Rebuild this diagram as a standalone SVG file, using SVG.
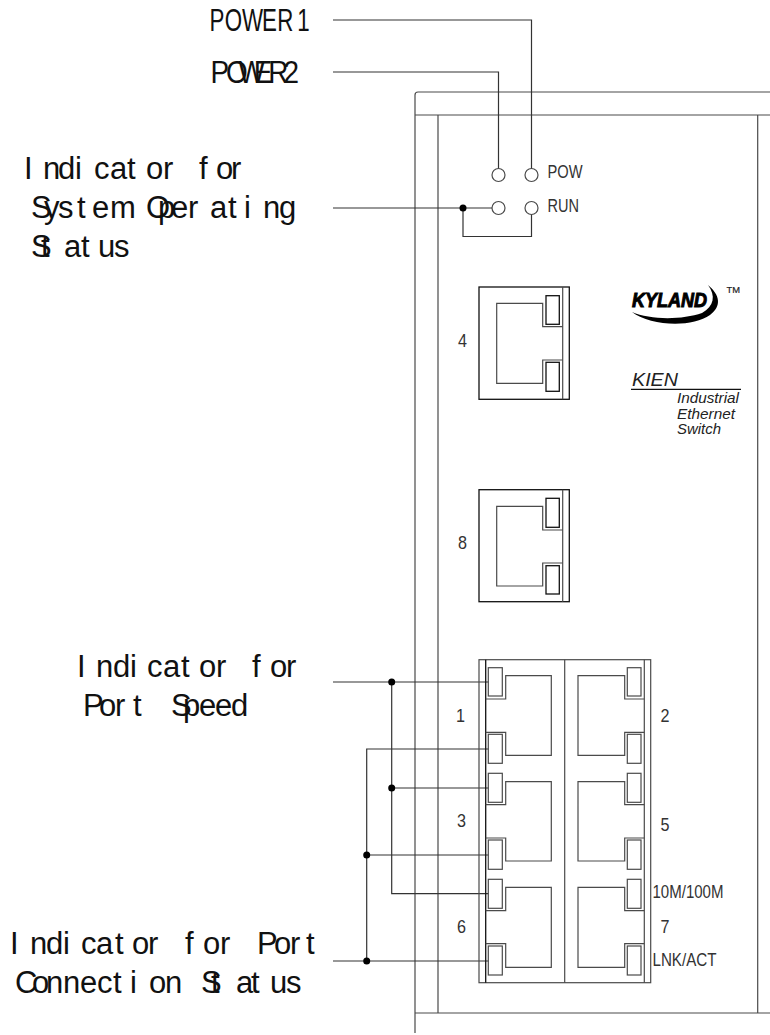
<svg xmlns="http://www.w3.org/2000/svg" width="770" height="1035" viewBox="0 0 770 1035">
<style>
.l{fill:none;stroke:#4a4a4a;stroke-width:1.2}
.k{fill:none;stroke:#111;stroke-width:1.3}
.w{fill:none;stroke:#333;stroke-width:1.2}
.d{fill:#000;stroke:none}
.big{font-family:"Liberation Sans",Arial,sans-serif;font-size:31px;fill:#111}
.sm{font-family:"Liberation Sans",Arial,sans-serif;font-size:19px;fill:#333}
.it{font-family:"Liberation Sans",Arial,sans-serif;font-style:italic;fill:#222}
</style>
<rect width="770" height="1035" fill="#fff"/>
<g id="enclosure">
<path class="l" d="M415,1033V95Q415,92 418,92H770"/>
<path class="l" d="M415,115H770M438,115V1013M757.700,115V1013M415,1013H770"/>
</g>
<g id="connectors">
<path class="w" d="M333,20H531.500V169"/>
<path class="w" d="M333,72H498.500V168.500"/>
<path class="w" d="M333,208H492"/>
<path class="w" d="M463,208V236.500H531.500V214.500"/>
<circle class="d" cx="463" cy="208" r="3.500"/>
<path class="w" d="M333,682H488.500"/>
<path class="w" d="M391.700,682V893.700H488.500"/>
<path class="w" d="M391.700,788H488.500"/>
<path class="w" d="M488.500,749H366.700V961"/>
<path class="w" d="M366.700,855H488.500"/>
<path class="w" d="M333,961H488.500"/>
<circle class="d" cx="391.700" cy="682" r="3.500"/>
<circle class="d" cx="391.700" cy="788" r="3.500"/>
<circle class="d" cx="366.700" cy="855" r="3.500"/>
<circle class="d" cx="366.700" cy="961" r="3.500"/>
</g>
<g id="leds">
<circle class="l" cx="498.500" cy="175" r="6.500"/>
<circle class="l" cx="531.500" cy="175" r="6.500"/>
<circle class="l" cx="498.500" cy="208" r="6.500"/>
<circle class="l" cx="531.500" cy="208" r="6.500"/>
<text class="sm" x="547.500" y="178.300" textLength="35" lengthAdjust="spacingAndGlyphs">POW</text>
<text class="sm" x="547.500" y="211.700" textLength="31.500" lengthAdjust="spacingAndGlyphs">RUN</text>
</g>
<g id="port4">
<rect class="k" x="479" y="287" width="90.300" height="112.300"/>
<path class="l" d="M562.700,287V399.300"/>
<path class="l" d="M562.700,326.700H542.700V303.300H496.700V383.300H542.700V360H562.700"/>
<rect class="k" x="546" y="295.700" width="13.300" height="28.600"/>
<rect class="k" x="546" y="362.300" width="13.300" height="29"/>
<text class="sm" x="458" y="346.700" textLength="9" lengthAdjust="spacingAndGlyphs">4</text>
</g>
<g id="port8">
<rect class="k" x="479" y="489.700" width="90.300" height="112"/>
<path class="l" d="M562.700,489.700V601.700"/>
<path class="l" d="M562.700,530H542.700V506.300H496.700V586H542.700V563H562.700"/>
<rect class="k" x="546" y="498.300" width="13.300" height="29"/>
<rect class="k" x="546" y="565.700" width="13.300" height="28.300"/>
<text class="sm" x="458" y="549" textLength="9" lengthAdjust="spacingAndGlyphs">8</text>
</g>
<g id="port-block">
<rect class="l" x="479" y="659.700" width="171.700" height="323"/>
<path class="k" d="M485.700,659.700V982.700"/>
<path class="l" d="M564.700,659.700V982.700M644.300,659.700V982.700"/>
<path class="l" d="M485.700,699H505.700V675.700H551.300V755.300H505.700V732.300H485.700"/>
<path class="l" d="M485.700,804.700H505.700V781.700H551.300V861H505.700V838H485.700"/>
<path class="l" d="M485.700,910.700H505.700V887.300H551.300V967.300H505.700V943.700H485.700"/>
<path class="l" d="M644.300,699H624.700V675.700H578V755.300H624.700V732.300H644.300"/>
<path class="l" d="M644.300,804.700H624.700V781.700H578V861H624.700V838H644.300"/>
<path class="l" d="M644.300,910.700H624.700V887.300H578V967.300H624.700V943.700H644.300"/>
<g class="leds">
<rect class="l" x="488.300" y="667.700" width="14" height="28.300"/>
<rect class="l" x="488.300" y="734.300" width="14" height="29"/>
<rect class="l" x="488.300" y="773.300" width="14" height="29"/>
<rect class="l" x="488.300" y="840" width="14" height="29.300"/>
<rect class="l" x="488.300" y="879.300" width="14" height="29"/>
<rect class="l" x="488.300" y="946" width="14" height="29"/>
<rect class="l" x="627.300" y="667.700" width="13.700" height="28.300"/>
<rect class="l" x="627.300" y="734.300" width="13.700" height="29"/>
<rect class="l" x="627.300" y="773.300" width="13.700" height="29"/>
<rect class="l" x="627.300" y="840" width="13.700" height="29.300"/>
<rect class="l" x="627.300" y="879.300" width="13.700" height="29"/>
<rect class="l" x="627.300" y="946" width="13.700" height="29"/>
</g>
<text class="sm" x="456" y="721.700" textLength="9" lengthAdjust="spacingAndGlyphs">1</text>
<text class="sm" x="457" y="826.700" textLength="9" lengthAdjust="spacingAndGlyphs">3</text>
<text class="sm" x="457" y="932.700" textLength="9" lengthAdjust="spacingAndGlyphs">6</text>
<text class="sm" x="660.500" y="721.700" textLength="9" lengthAdjust="spacingAndGlyphs">2</text>
<text class="sm" x="660.500" y="831" textLength="9" lengthAdjust="spacingAndGlyphs">5</text>
<text class="sm" x="660.500" y="932.500" textLength="9" lengthAdjust="spacingAndGlyphs">7</text>
<text class="sm" x="652.500" y="897.700" textLength="71" lengthAdjust="spacingAndGlyphs">10M/100M</text>
<text class="sm" x="652.500" y="966" textLength="64" lengthAdjust="spacingAndGlyphs">LNK/ACT</text>
</g>
<g id="logo">
<text x="632" y="307" textLength="75" lengthAdjust="spacingAndGlyphs" font-family="'Liberation Sans',Arial,sans-serif" font-weight="bold" font-style="italic" font-size="20" fill="#000" stroke="#000" stroke-width="1">KYLAND</text>
<path class="d" d="M632,312C650,326 692,328 710,315C722,306 720,295 708,285C716,296 714,306 702,313C682,320 650,320 632,312Z"/>
<text x="726.500" y="292.500" textLength="13.500" lengthAdjust="spacingAndGlyphs" font-family="'Liberation Sans',Arial,sans-serif" font-size="9.500" stroke="#222" stroke-width=".2" fill="#222">TM</text>
<text class="it" x="632" y="385.700" font-size="18" textLength="46" lengthAdjust="spacingAndGlyphs">KIEN</text>
<path class="k" d="M631,389.300H741"/>
<text class="it" x="677" y="403.300" font-size="15" textLength="62" lengthAdjust="spacingAndGlyphs">Industrial</text>
<text class="it" x="677" y="419" font-size="15" textLength="58" lengthAdjust="spacingAndGlyphs">Ethernet</text>
<text class="it" x="677" y="434" font-size="15" textLength="44" lengthAdjust="spacingAndGlyphs">Switch</text>
</g>
<g id="labels">
<text class="big" transform="scale(.72 1)" y="31" x="291 312 336 364 385 413">POWER1</text>
<text class="big" transform="scale(.9 1)" y="83" x="234 251 265 282 298 315">POWER2</text>
<text class="big" y="179" x="24 43 58 75 94 110 127 146 163 180 199 216 231">Indicator for</text>
<text class="big" y="218" x="31 44 58 77 92 110 128 146 158 171 188 210 228 244 263 279">System Operating</text>
<text class="big" y="257" x="31 41 64 81 98 114">Status</text>
<text class="big" y="677" x="77 96 113 130 147 163 181 199 216 234 252 270 286">Indicator for</text>
<text class="big" y="716" x="83 99 115 133 152 171 183 199 215 231">Port Speed</text>
<text class="big" y="954" x="10 30 46 63 81 96 115 132 148 166 185 203 220 238 257 274 290 306">Indicator for Port</text>
<text class="big" y="993" x="15 32 46 63 80 97 113 130 149 165 184 201 211 236 251 270 286">Connection Status</text>
</g>
</svg>
